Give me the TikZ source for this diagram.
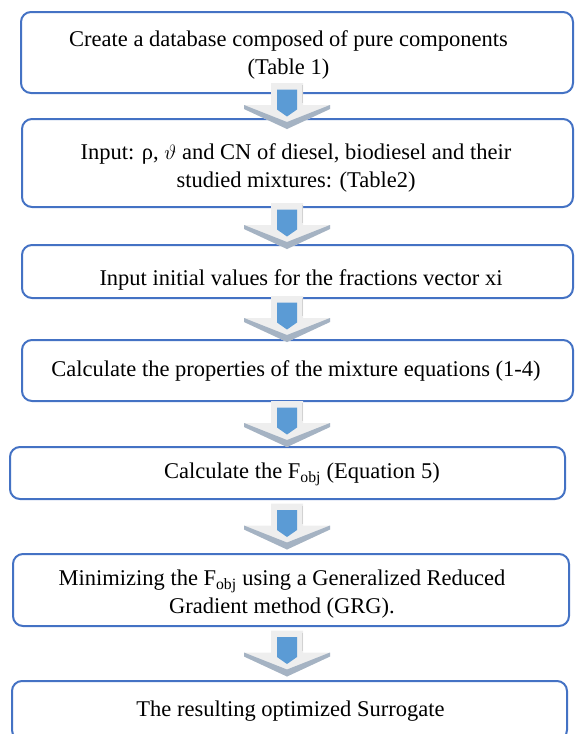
\documentclass[tikz,border=0pt]{standalone}
\usepackage{fontspec}
\setmainfont{Liberation Serif}
\usetikzlibrary{calc}
\definecolor{azulborde}{HTML}{4472C4}
\definecolor{azulflecha}{HTML}{5B9BD5}
\definecolor{grisflecha}{HTML}{EEEEEE}
\definecolor{grisbisel}{HTML}{A5B3C3}

\begin{document}
\begin{tikzpicture}[x=1pt,y=-1pt,
	caja/.style={draw=azulborde, line width=2pt, rounded corners=10pt, fill=white, inner sep=0pt},
	texto/.style={align=center, inner sep=0pt, font=\fontsize{22.5}{28}\selectfont},
	flecha/.pic={
		\fill[grisflecha] (-16,-23) -- (16,-23) -- (16,-1) -- (43,-1) -- (43,3) -- (0,23)
			-- (-43,3) -- (-43,-1) -- (-16,-1) -- cycle;
		\fill[grisbisel] (-43,-1) -- (0,16) -- (43,-1) -- (43,3) -- (0,23) -- (-43,3) -- cycle;
		\draw[gray!35, line width=1pt] (15,-21) -- (15,-3);
		\fill[azulflecha] (-10,-16.5) -- (10,-16.5) -- (10,3.5) -- (0,10.5) -- (-10,3.5) -- cycle;
	}]
			\useasboundingbox (0,0) rectangle (575,734);

			% Cajas
			\node at (297,52.5) [caja, minimum width=552, minimum height=81] (n1) {};
			\node at (297.5,163) [caja, minimum width=551, minimum height=88] (n2) {};
			\node at (297.5,271.5) [caja, minimum width=551, minimum height=53] (n3) {};
			\node at (297.5,370.5) [caja, minimum width=551, minimum height=61] (n4) {};
			\node at (287.5,473) [caja, minimum width=555, minimum height=52] (n5) {};
			\node at (291,590) [caja, minimum width=556, minimum height=72] (n6) {};
			\node at (289.5,710.5) [caja, minimum width=555, minimum height=59] (n7) {};

			% Textos
			\node at (288.5,55) [texto] (t1)
				{Create a database composed of pure components\\(Table 1)};
			\node at (296,168) [texto] (t2)
				{Input: ρ, $\vartheta$ and CN of diesel, biodiesel and their\\studied mixtures: (Table2)};
			\node at (301,280) [texto] (t3)
				{Input initial values for the fractions vector xi};
			\node at (296,371) [texto] (t4)
				{Calculate the properties of the mixture equations (1-4)};
			\node at (302,474) [texto] (t5)
				{Calculate the F\textsubscript{obj} (Equation 5)};
			\node at (282,594) [texto] (t6)
				{Minimizing the F\textsubscript{obj} using a Generalized Reduced\\Gradient method (GRG).};
			\node at (290.5,711) [texto] (t7)
				{The resulting optimized Surrogate};

			% Eje de las flechas
			\coordinate (ax) at (287,0);

			% Flechas entre pasos
			\coordinate (m1) at ($(n1.south)!.5!(n2.north)$);
			\coordinate (m2) at ($(n2.south)!.5!(n3.north)$);
			\coordinate (m3) at ($(n3.south)!.5!(n4.north)$);
			\coordinate (m4) at ($(n4.south)!.5!(n5.north)$);
			\coordinate (m5) at ($(n5.south)!.5!(n6.north)$);
			\coordinate (m6) at ($(n6.south)!.5!(n7.north)$);
			\pic at (m1 -| ax) {flecha};
			\pic at (m2 -| ax) {flecha};
			\pic at (m3 -| ax) {flecha};
			\pic at (m4 -| ax) {flecha};
			\pic at (m5 -| ax) {flecha};
			\pic at (m6 -| ax) {flecha};
		\end{tikzpicture}
\end{document}
